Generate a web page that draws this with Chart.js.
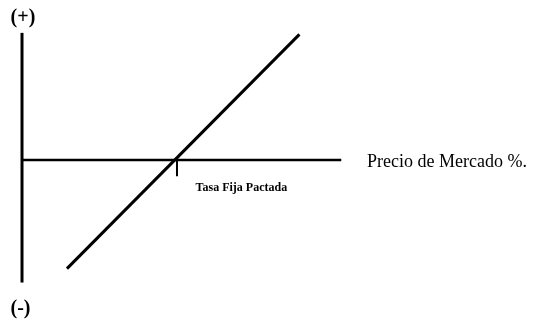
<!DOCTYPE html>
<html>
<head>
<meta charset="utf-8">
<script src="https://cdn.jsdelivr.net/npm/chart.js@4"></script>
<style>
  html, body { margin: 0; padding: 0; background: #fff; }
  #wrap { width: 557px; height: 321px; position: relative; }
</style>
</head>
<body>
<div id="wrap"><canvas id="swapChart"></canvas></div>
<script>
// Valor de la posición vs. precio de mercado (%)
const fixedRate = 5;
const valueLineX = [1.45, 8.95];
const valueLineY = [-3.5, 4.05];
const hAxisX = [0, 10.3];
const vAxisY = [-3.95, 4.1];
const tickDepth = 0.52;

const labels = [
  { text: '(+)', x: 0.03, y: 4.6, font: 'bold 20px "Liberation Serif"', align: 'center' },
  { text: '(-)', x: -0.05, y: -4.8, font: 'bold 20px "Liberation Serif"', align: 'center' },
  { text: 'Tasa Fija Pactada', x: 5.6, y: -0.9, font: 'bold 12px "Liberation Serif"', align: 'left' },
  { text: 'Precio de Mercado %.', x: 11.13, y: -0.07, font: '18px "Liberation Serif"', align: 'left' }
];

const toPts = (xs, ys) => xs.map((x, i) => ({ x, y: ys[i] }));

const textPlugin = {
  id: 'texts',
  afterDatasetsDraw(chart) {
    const { ctx, scales: { x, y } } = chart;
    ctx.save();
    ctx.fillStyle = '#000';
    ctx.textBaseline = 'middle';
    labels.forEach(l => {
      ctx.font = l.font;
      ctx.textAlign = l.align;
      ctx.fillText(l.text, x.getPixelForValue(l.x), y.getPixelForValue(l.y));
    });
    ctx.restore();
  }
};

const line = (data, width) => ({
  data,
  showLine: true,
  borderColor: '#000',
  borderWidth: width,
  pointRadius: 0,
  borderCapStyle: 'butt',
  fill: false
});

new Chart(document.getElementById('swapChart'), {
  type: 'scatter',
  data: {
    datasets: [
      line(toPts([0, 0], vAxisY), 3),
      line(toPts(hAxisX, [0, 0]), 2.5),
      line(toPts([fixedRate, fixedRate], [0, -tickDepth]), 2),
      line(toPts(valueLineX, valueLineY), 3)
    ]
  },
  options: {
    responsive: true,
    maintainAspectRatio: false,
    animation: false,
    layout: { padding: 0 },
    plugins: { legend: { display: false }, tooltip: { enabled: false } },
    scales: {
      x: { type: 'linear', display: false, min: -0.71, max: 17.26 },
      y: { type: 'linear', display: false, min: -5.19, max: 5.16 }
    }
  },
  plugins: [textPlugin]
});
</script>
</body>
</html>
